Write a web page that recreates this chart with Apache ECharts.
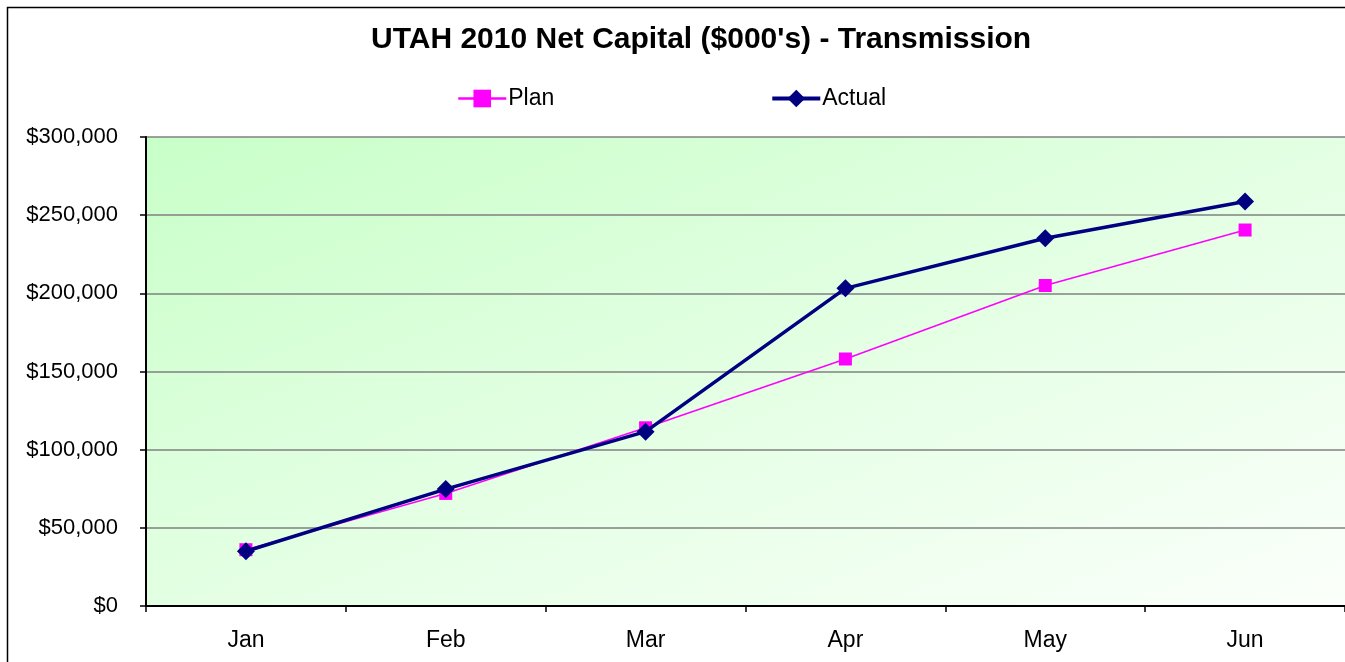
<!DOCTYPE html>
<html lang="en">
<head>
    <meta charset="UTF-8">
    <title>UTAH 2010 Net Capital - Transmission</title>
    <style>
        html, body { margin: 0; padding: 0; background: #fff; }
        #chart { width: 1345px; height: 662px; }
    </style>
</head>
<body>
<div id="chart"></div>
<script src="https://cdn.jsdelivr.net/npm/echarts@6/dist/echarts.min.js"></script>
<script>
    // data ($000's)
    var months = ['Jan', 'Feb', 'Mar', 'Apr', 'May', 'Jun'];
    var plan = [36000, 72000, 114000, 158000, 205000, 240500];
    var actual = [35000, 74800, 111500, 203200, 235200, 258700];
    var yTicks = [0, 50000, 100000, 150000, 200000, 250000, 300000];

    var font = '"Liberation Sans", Arial, sans-serif';

    var myChart = echarts.init(document.getElementById('chart'));
    var option = {
        animation: false,
        textStyle: { fontFamily: font },
        graphic: [{
            type: 'rect',
            shape: { x: 7.5, y: 7.5, width: 1345, height: 662 },
            style: { fill: 'none', stroke: '#000', lineWidth: 1.5 },
            silent: true
        }],
        title: {
            text: "UTAH 2010 Net Capital ($000's) - Transmission",
            left: 366,
            top: 20,
            textStyle: { fontFamily: font, fontSize: 30, fontWeight: 'bold', color: '#000' }
        },
        legend: {
            left: 452,
            top: 82,
            itemWidth: 48,
            itemHeight: 22,
            itemGap: 216,
            textStyle: { fontFamily: font, fontSize: 23, color: '#000', padding: [0, 0, 0, -3] },
            data: [
                { name: 'Plan', lineStyle: { width: 2.5 } },
                { name: 'Actual', lineStyle: { width: 4 } }
            ]
        },
        grid: {
            left: 146,
            top: 137,
            right: -1,
            bottom: 56,
            show: true,
            borderWidth: 0,
            // diagonal fill: top-right and bottom-left corners share the middle shade
            backgroundColor: new echarts.graphic.LinearGradient(146, 137, 464, 951, [
                { offset: 0, color: '#c8ffc8' },
                { offset: 0.5, color: '#e3ffe3' },
                { offset: 1, color: '#fbfffb' }
            ], true)
        },
        xAxis: {
            type: 'category',
            data: months,
            boundaryGap: true,
            axisLine: { lineStyle: { color: '#000', width: 2 } },
            axisTick: { show: true, length: 6, lineStyle: { color: '#000', width: 1.5 } },
            axisLabel: { color: '#000', fontSize: 23, fontFamily: font, margin: 23 }
        },
        yAxis: {
            type: 'value',
            min: 0,
            max: 300000,
            interval: 50000,
            axisLine: { show: true, lineStyle: { color: '#000', width: 2 } },
            axisTick: { show: true, length: 6, lineStyle: { color: '#000', width: 1.5 } },
            splitLine: { show: true, lineStyle: { color: '#808080', width: 1.5 } },
            axisLabel: {
                color: '#000',
                fontSize: 22,
                fontFamily: font,
                margin: 28,
                formatter: function (v) {
                    if (yTicks.indexOf(v) < 0) return '';
                    return '$' + v.toLocaleString('en-US');
                }
            }
        },
        series: [{
            name: 'Plan',
            type: 'line',
            data: plan,
            symbol: 'rect',
            symbolSize: 13,
            itemStyle: { color: '#ff00ff' },
            lineStyle: { color: '#ff00ff', width: 1.5 },
            z: 2
        }, {
            name: 'Actual',
            type: 'line',
            data: actual,
            symbol: 'diamond',
            symbolSize: 18,
            itemStyle: { color: '#000080' },
            lineStyle: { color: '#000080', width: 3.5 },
            z: 3
        }]
    };
    myChart.setOption(option);
</script>
</body>
</html>
